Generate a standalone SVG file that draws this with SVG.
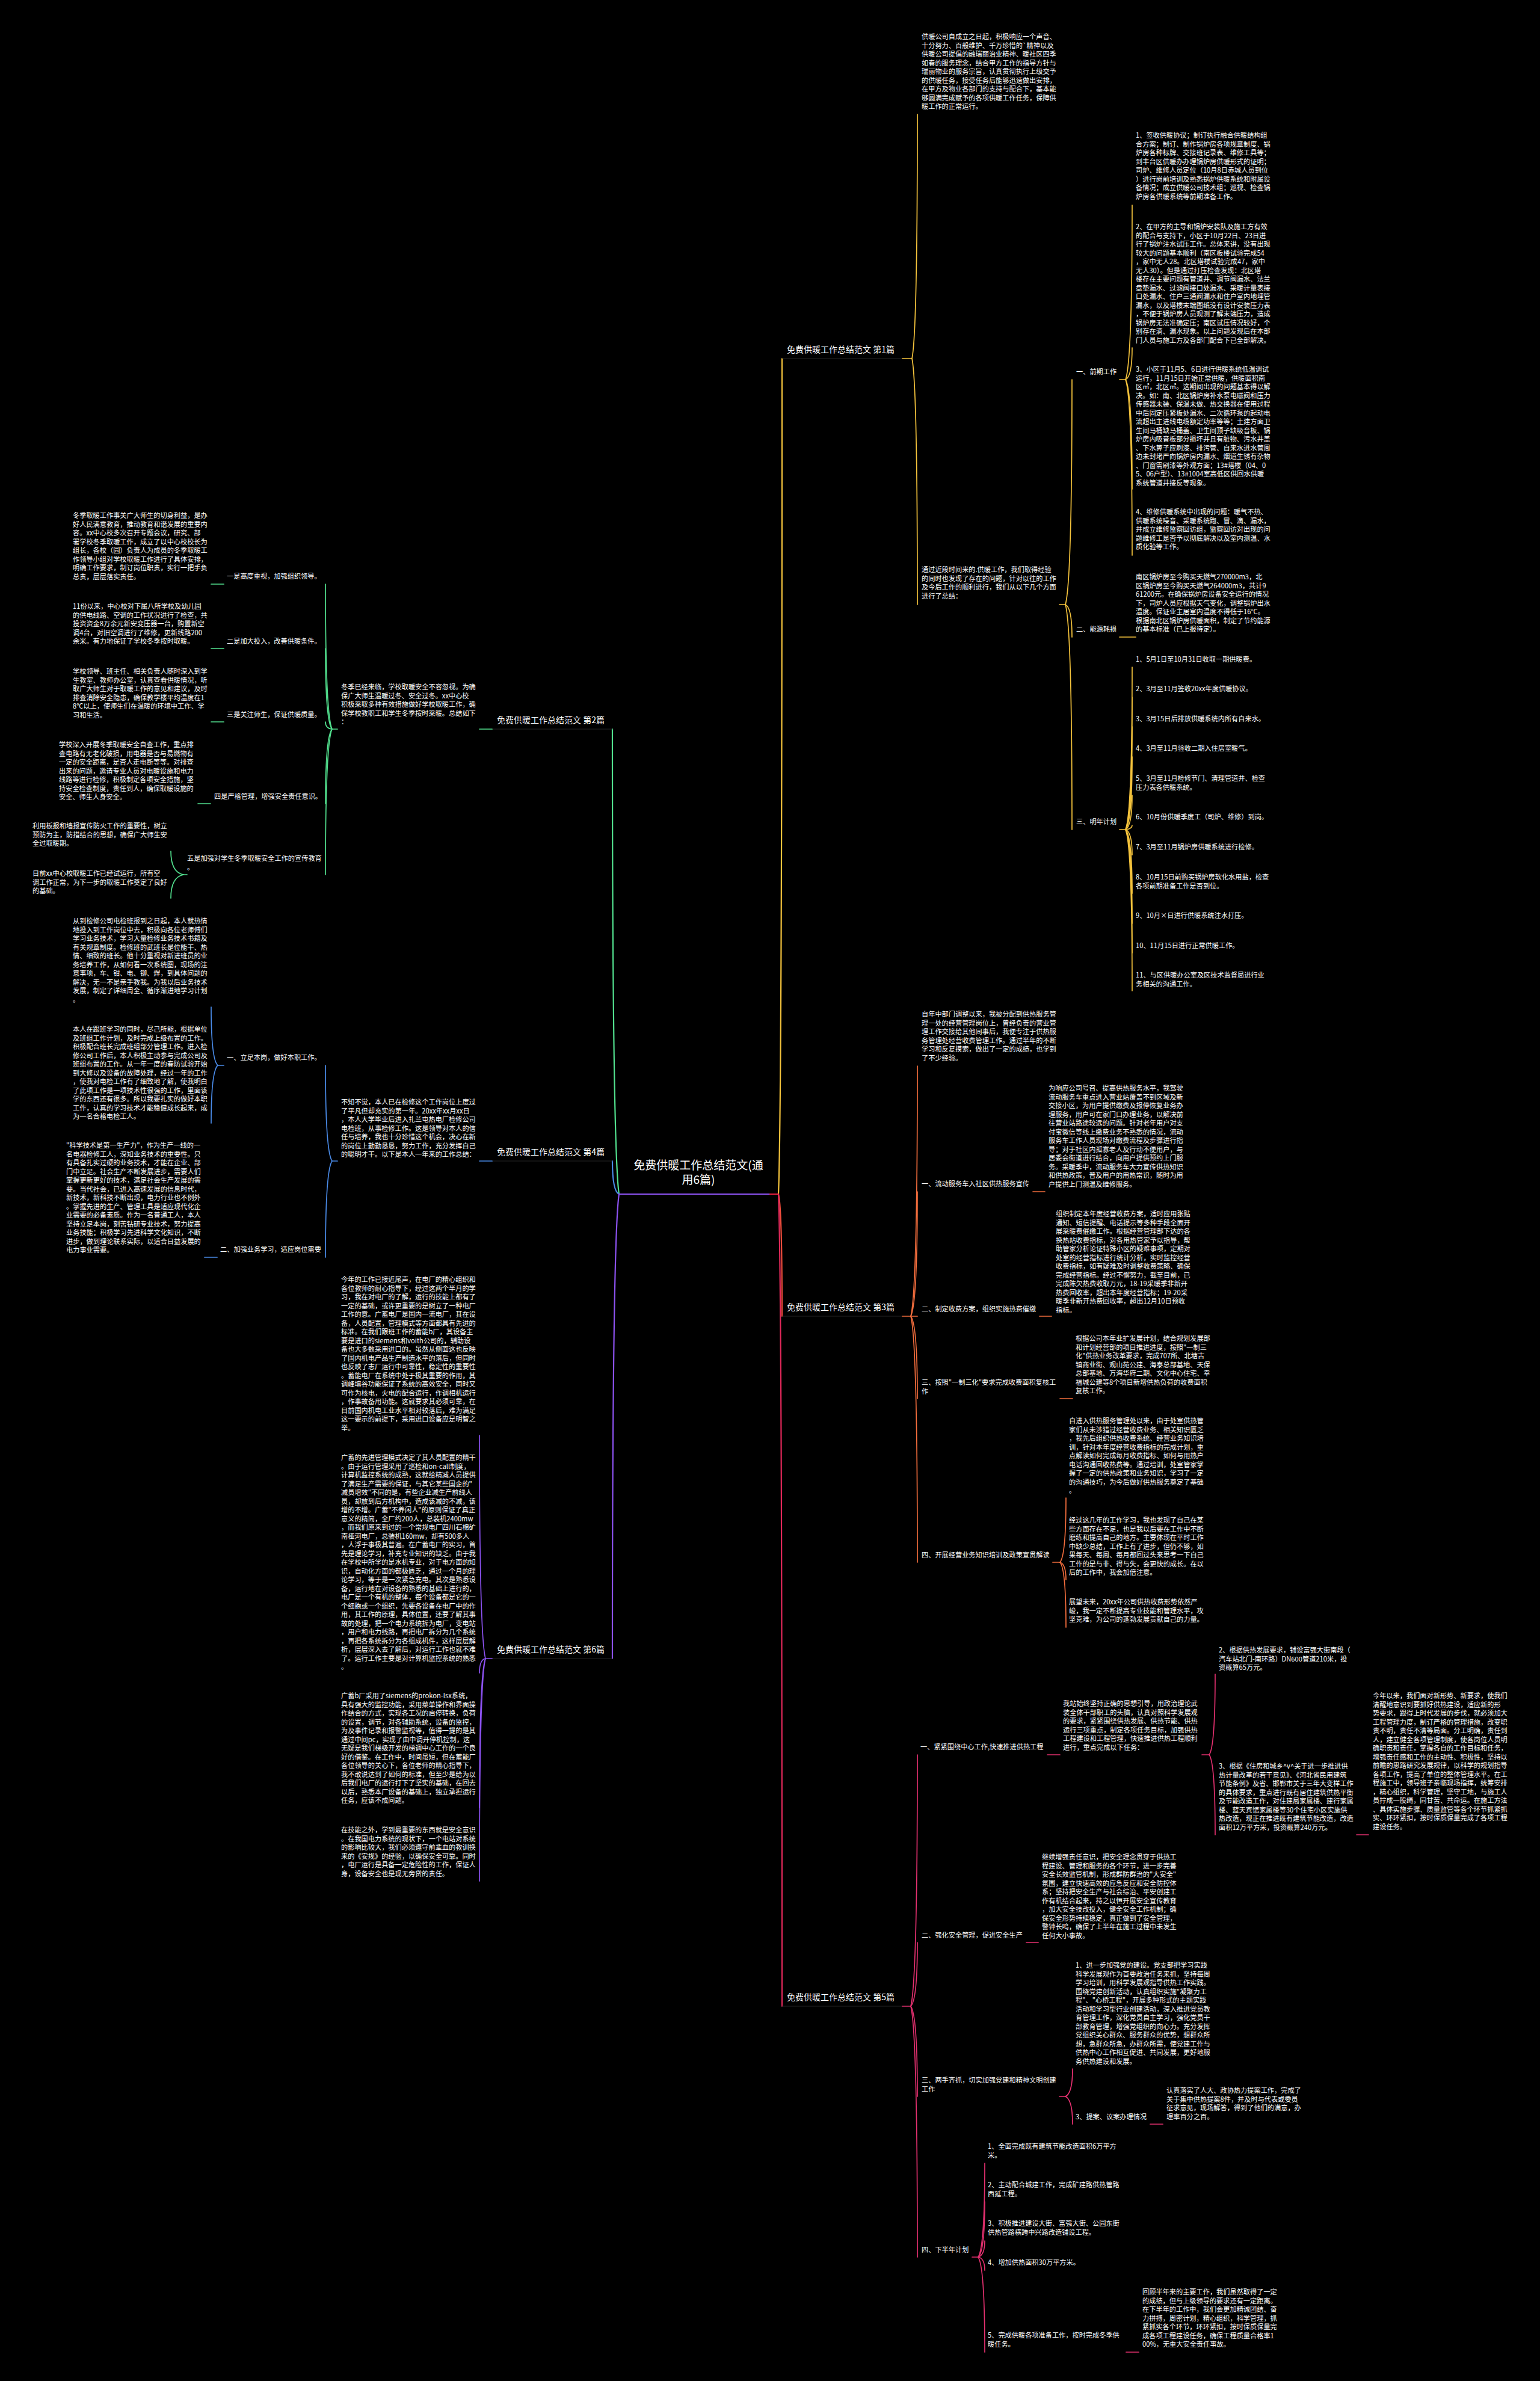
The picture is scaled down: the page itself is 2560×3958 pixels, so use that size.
<svg xmlns="http://www.w3.org/2000/svg" width="2560" height="3958" viewBox="0 0 2560 3958">
<style>
.t{font-family:'Noto Sans CJK SC','Noto Sans',sans-serif;font-size:11.2px;fill:#fff}
.b{font-size:14px}
.h{font-size:19px}
.c{fill:none;stroke-width:1.7;stroke-linecap:round}
.m{stroke-width:2.2}
.u{stroke:#262626;stroke-width:1}
.y{stroke:#f3c23c}.o{stroke:#f26d3d}.r{stroke:#ef4d3c}.p{stroke:#e3306f}.pr{stroke:#e2285a}
.g{stroke:#52e08e}.bl{stroke:#4a8be8}.v{stroke:#8c52f0}.rd{stroke:#e6203f}
</style>
<rect width="2560" height="3958" fill="#000"/>
<g id="connectors">
<path class="c m v" d="M1029 1985 H1280"/>
<path class="c m rd" d="M1280 1985 H1294"/>
<path class="c m y" d="M1294 1985 Q1300 1846 1300 596"/>
<path class="c u" d="M1300 596 H1500"/>
<path class="c y" d="M1500 596 H1516"/>
<path class="c y" d="M1516 596 Q1525 555 1525 190"/>
<path class="c y" d="M1516 596 Q1525 637 1525 1005"/>
<path class="c y" d="M1761 1005 H1771"/>
<path class="c y" d="M1771 1005 Q1782 968 1782 631"/>
<path class="c y" d="M1771 1005 Q1782 1010 1782 1059"/>
<path class="c y" d="M1771 1005 Q1782 1042 1782 1379"/>
<path class="c y" d="M1861 631 H1871"/>
<path class="c y" d="M1871 631 Q1882 602 1882 341"/>
<path class="c y" d="M1871 631 Q1882 626 1882 578"/>
<path class="c y" d="M1871 631 Q1882 649 1882 813"/>
<path class="c y" d="M1871 631 Q1882 660 1882 923"/>
<path class="c y" d="M1861 1059 H1888"/>
<path class="c y" d="M1861 1379 H1871"/>
<path class="c y" d="M1871 1379 Q1882 1352 1882 1109"/>
<path class="c y" d="M1871 1379 Q1882 1357 1882 1159"/>
<path class="c y" d="M1871 1379 Q1882 1362 1882 1208"/>
<path class="c y" d="M1871 1379 Q1882 1367 1882 1258"/>
<path class="c y" d="M1871 1379 Q1882 1373 1882 1322"/>
<path class="c y" d="M1871 1379 Q1882 1378 1882 1372"/>
<path class="c y" d="M1871 1379 Q1882 1383 1882 1421"/>
<path class="c y" d="M1871 1379 Q1882 1390 1882 1485"/>
<path class="c y" d="M1871 1379 Q1882 1395 1882 1535"/>
<path class="c y" d="M1871 1379 Q1882 1400 1882 1584"/>
<path class="c y" d="M1871 1379 Q1882 1406 1882 1647"/>

<path class="c m r" d="M1294 1985 Q1300 2005 1300 2188"/>
<path class="c u" d="M1300 2188 H1500"/>
<path class="c o" d="M1500 2188 H1514"/>
<path class="c o" d="M1514 2188 Q1525 2146 1525 1772"/>
<path class="c o" d="M1514 2188 Q1525 2167 1525 1981"/>
<path class="c o" d="M1514 2188 H1525"/>
<path class="c o" d="M1514 2188 Q1525 2202 1525 2325"/>
<path class="c o" d="M1514 2188 Q1525 2229 1525 2597"/>
<path class="c o" d="M1717 1981 H1737"/>
<path class="c o" d="M1728 2188 H1748"/>
<path class="c o" d="M1762 2325 H1783"/>
<path class="c o" d="M1750 2597 H1762"/>
<path class="c o" d="M1762 2597 Q1772 2586 1772 2490"/>
<path class="c o" d="M1762 2597 Q1772 2600 1772 2626"/>
<path class="c o" d="M1762 2597 Q1772 2608 1772 2705"/>

<path class="c m pr" d="M1294 1985 Q1300 2120 1300 3335"/>
<path class="c u" d="M1300 3335 H1500"/>
<path class="c p" d="M1500 3335 H1514"/>
<path class="c p" d="M1514 3335 Q1525 3293 1525 2917"/>
<path class="c p" d="M1514 3335 Q1525 3324 1525 3229"/>
<path class="c p" d="M1514 3335 Q1525 3350 1525 3485"/>
<path class="c p" d="M1514 3335 Q1525 3377 1525 3752"/>
<path class="c p" d="M1741 2917 H1762"/>
<path class="c p" d="M1998 2917 H2010"/>
<path class="c p" d="M2010 2917 Q2020 2904 2020 2783"/>
<path class="c p" d="M2010 2917 Q2020 2930 2020 3050"/>
<path class="c p" d="M2255 3050 H2275"/>
<path class="c p" d="M1706 3229 H1726"/>
<path class="c p" d="M1761 3485 H1771"/>
<path class="c p" d="M1771 3485 Q1783 3480 1783 3439"/>
<path class="c p" d="M1771 3485 Q1783 3490 1783 3531"/>
<path class="c p" d="M1912 3531 H1933"/>
<path class="c p" d="M1616 3752 H1626"/>
<path class="c p" d="M1626 3752 Q1637 3736 1637 3596"/>
<path class="c p" d="M1626 3752 Q1637 3743 1637 3660"/>
<path class="c p" d="M1626 3752 Q1637 3749 1637 3725"/>
<path class="c p" d="M1626 3752 Q1637 3754 1637 3774"/>
<path class="c p" d="M1626 3752 Q1637 3768 1637 3910"/>
<path class="c p" d="M1872 3910 H1893"/>

<path class="c m g" d="M1029 1985 Q1018 1908 1018 1212"/>
<path class="c u" d="M818 1212 H1018"/>
<path class="c g" d="M797 1212 H818"/>
<path class="c g" d="M552 1212 H561"/>
<path class="c g" d="M552 1212 Q541 1188 541 971"/>
<path class="c g" d="M552 1212 Q541 1199 541 1078"/>
<path class="c g" d="M552 1212 Q541 1211 541 1200"/>
<path class="c g" d="M552 1212 Q541 1224 541 1336"/>
<path class="c g" d="M552 1212 Q541 1236 541 1454"/>
<path class="c g" d="M351 971 H372"/>
<path class="c g" d="M351 1078 H372"/>
<path class="c g" d="M351 1200 H372"/>
<path class="c g" d="M329 1336 H350"/>
<path class="c g" d="M305 1454 H311"/>
<path class="c g" d="M305 1454 Q284 1450 284 1415"/>
<path class="c g" d="M305 1454 Q284 1458 284 1493"/>

<path class="c m bl" d="M1029 1985 Q1018 1980 1018 1930"/>
<path class="c u" d="M818 1930 H1018"/>
<path class="c bl" d="M797 1930 H818"/>
<path class="c bl" d="M552 1930 H561"/>
<path class="c bl" d="M552 1930 Q541 1914 541 1771"/>
<path class="c bl" d="M552 1930 Q541 1946 541 2090"/>
<path class="c bl" d="M362 1771 H372"/>
<path class="c bl" d="M362 1771 Q351 1761 351 1674"/>
<path class="c bl" d="M362 1771 Q351 1781 351 1867"/>
<path class="c bl" d="M340 2090 H361"/>

<path class="c m v" d="M1029 1985 Q1018 2062 1018 2757"/>
<path class="c u" d="M818 2757 H1018"/>
<path class="c v" d="M807 2757 H818"/>
<path class="c v" d="M807 2757 Q797 2720 797 2386"/>
<path class="c v" d="M807 2757 Q797 2759 797 2781"/>
<path class="c v" d="M807 2757 Q797 2782 797 3005"/>
<path class="c v" d="M807 2757 Q797 2794 797 3127"/>
</g>

<g id="root"><text class="t h" text-anchor="middle"><tspan x="1161" y="1944">免费供暖工作总结范文(通</tspan><tspan x="1161" y="1968">用6篇)</tspan></text></g>

<g id="b1"><text class="t b" x="1308" y="586">免费供暖工作总结范文 第1篇</text></g>
<g id="b1-intro"><text class="t"><tspan x="1532" y="65">供暖公司自成立之日起，积极响应一个声音、</tspan><tspan x="1532" dy="14.5">十分努力、百般维护、千万珍惜的`精神以及</tspan><tspan x="1532" dy="14.5">供暖公司提倡的融瑞丽治业精神、暖社区四季</tspan><tspan x="1532" dy="14.5">如春的服务理念，结合甲方工作的指导方针与</tspan><tspan x="1532" dy="14.5">瑞丽物业的服务宗旨，认真贯彻执行上级交予</tspan><tspan x="1532" dy="14.5">的供暖任务，接受任务后能够迅速做出安排，</tspan><tspan x="1532" dy="14.5">在甲方及物业各部门的支持与配合下，基本能</tspan><tspan x="1532" dy="14.5">够圆满完成赋予的各项供暖工作任务，保障供</tspan><tspan x="1532" dy="14.5">暖工作的正常运行。</tspan></text></g>
<g id="b1-sum"><text class="t"><tspan x="1532" y="951">通过近段时间来的.供暖工作，我们取得经验</tspan><tspan x="1532" dy="14.5">的同时也发现了存在的问题，针对以往的工作</tspan><tspan x="1532" dy="14.5">及今后工作的顺利进行，我们从以下几个方面</tspan><tspan x="1532" dy="14.5">进行了总结：</tspan></text></g>
<g id="b1-s1"><text class="t" x="1789" y="622">一、前期工作</text></g>
<g id="b1-s2"><text class="t" x="1789" y="1050">二、能源耗损</text></g>
<g id="b1-s3"><text class="t" x="1789" y="1370">三、明年计划</text></g>
<g id="b1-s1-1"><text class="t"><tspan x="1888" y="229">1、签收供暖协议；制订执行融合供暖结构组</tspan><tspan x="1888" dy="14.5">合方案；制订、制作锅炉房各项规章制度、锅</tspan><tspan x="1888" dy="14.5">炉房各种标牌、交接班记录表、维修工具等；</tspan><tspan x="1888" dy="14.5">到丰台区供暖办办理锅炉房供暖形式的证明；</tspan><tspan x="1888" dy="14.5">司炉、维修人员定位（10月8日赤城人员到位</tspan><tspan x="1888" dy="14.5">）进行岗前培训及熟悉锅炉供暖系统和附属设</tspan><tspan x="1888" dy="14.5">备情况；成立供暖公司技术组；巡视、检查锅</tspan><tspan x="1888" dy="14.5">炉房各供暖系统等前期准备工作。</tspan></text></g>
<g id="b1-s1-2"><text class="t"><tspan x="1888" y="381">2、在甲方的主导和锅炉安装队及施工方有效</tspan><tspan x="1888" dy="14.5">的配合与支持下，小区于10月22日、23日进</tspan><tspan x="1888" dy="14.5">行了锅炉注水试压工作。总体来讲，没有出现</tspan><tspan x="1888" dy="14.5">较大的问题基本顺利（南区板楼试验完成54</tspan><tspan x="1888" dy="14.5">，家中无人28。北区塔楼试验完成47，家中</tspan><tspan x="1888" dy="14.5">无人30）。但是通过打压检查发现：北区塔</tspan><tspan x="1888" dy="14.5">楼存在主要问题有管道井、调节阀漏水、法兰</tspan><tspan x="1888" dy="14.5">盘垫漏水、过滤阀接口处漏水、采暖计量表接</tspan><tspan x="1888" dy="14.5">口处漏水、住户三通阀漏水和住户室内地埋管</tspan><tspan x="1888" dy="14.5">漏水，以及塔楼末端图纸没有设计安装压力表</tspan><tspan x="1888" dy="14.5">，不便于锅炉房人员观测了解末端压力，造成</tspan><tspan x="1888" dy="14.5">锅炉房无法准确定压；南区试压情况较好，个</tspan><tspan x="1888" dy="14.5">别存在滴、漏水现象。以上问题发现后在本部</tspan><tspan x="1888" dy="14.5">门人员与施工方及各部门配合下已全部解决。</tspan></text></g>
<g id="b1-s1-3"><text class="t"><tspan x="1888" y="618">3、小区于11月5、6日进行供暖系统低温调试</tspan><tspan x="1888" dy="14.5">运行，11月15日开始正常供暖，供暖面积南</tspan><tspan x="1888" dy="14.5">区㎡，北区㎡。这期间出现的问题基本得以解</tspan><tspan x="1888" dy="14.5">决。如：南、北区锅炉房补水泵电磁阀和压力</tspan><tspan x="1888" dy="14.5">传感器未装、保温未做、热交换器在使用过程</tspan><tspan x="1888" dy="14.5">中后固定压紧板处漏水、二次循环泵的起动电</tspan><tspan x="1888" dy="14.5">流超出主进线电缆额定功率等等；土建方面卫</tspan><tspan x="1888" dy="14.5">生间马桶缺马桶盖、卫生间顶子缺吸音板、锅</tspan><tspan x="1888" dy="14.5">炉房内吸音板部分损坏并且有脏物、污水井盖</tspan><tspan x="1888" dy="14.5">、下水箅子应刷漆、排污管、自来水进水管周</tspan><tspan x="1888" dy="14.5">边未封堵严向锅炉房内漏水、烟道生锈有杂物</tspan><tspan x="1888" dy="14.5">、门窗需刷漆等外观方面；13#塔楼（04、0</tspan><tspan x="1888" dy="14.5">5、06户型）、13#1004室高低区供回水供暖</tspan><tspan x="1888" dy="14.5">系统管道井接反等现象。</tspan></text></g>
<g id="b1-s1-4"><text class="t"><tspan x="1888" y="855">4、维修供暖系统中出现的问题：暖气不热、</tspan><tspan x="1888" dy="14.5">供暖系统噪音、采暖系统跑、冒、滴、漏水，</tspan><tspan x="1888" dy="14.5">并成立维修监察回访组，监察回访对出现的问</tspan><tspan x="1888" dy="14.5">题维修工是否予以彻底解决以及室内测温、水</tspan><tspan x="1888" dy="14.5">质化验等工作。</tspan></text></g>
<g id="b1-s2-1"><text class="t"><tspan x="1888" y="963">南区锅炉房至今购买天燃气270000m3，北</tspan><tspan x="1888" dy="14.5">区锅炉房至今购买天燃气264000m3，共计9</tspan><tspan x="1888" dy="14.5">61200元。在确保锅炉房设备安全运行的情况</tspan><tspan x="1888" dy="14.5">下，司炉人员应根据天气变化，调整锅炉出水</tspan><tspan x="1888" dy="14.5">温度。保证业主居室内温度不得低于16°C。</tspan><tspan x="1888" dy="14.5">根据南北区锅炉房供暖面积，制定了节约能源</tspan><tspan x="1888" dy="14.5">的基本标准（已上报待定）。</tspan></text></g>
<g id="b1-s3-1"><text class="t" x="1888" y="1100">1、5月1日至10月31日收取一期供暖费。</text></g>
<g id="b1-s3-2"><text class="t" x="1888" y="1149">2、3月至11月签收20xx年度供暖协议。</text></g>
<g id="b1-s3-3"><text class="t" x="1888" y="1199">3、3月15日后排放供暖系统内所有自来水。</text></g>
<g id="b1-s3-4"><text class="t" x="1888" y="1248">4、3月至11月验收二期入住居室暖气。</text></g>
<g id="b1-s3-5"><text class="t"><tspan x="1888" y="1298">5、3月至11月检修节门、清理管道井、检查</tspan><tspan x="1888" dy="14.5">压力表各供暖系统。</tspan></text></g>
<g id="b1-s3-6"><text class="t" x="1888" y="1362">6、10月份供暖季度工（司炉、维修）到岗。</text></g>
<g id="b1-s3-7"><text class="t" x="1888" y="1412">7、3月至11月锅炉房供暖系统进行检修。</text></g>
<g id="b1-s3-8"><text class="t"><tspan x="1888" y="1462">8、10月15日前购买锅炉房软化水用盐，检查</tspan><tspan x="1888" dy="14.5">各项前期准备工作是否到位。</tspan></text></g>
<g id="b1-s3-9"><text class="t" x="1888" y="1526">9、10月×日进行供暖系统注水打压。</text></g>
<g id="b1-s3-10"><text class="t" x="1888" y="1576">10、11月15日进行正常供暖工作。</text></g>
<g id="b1-s3-11"><text class="t"><tspan x="1888" y="1625">11、与区供暖办公室及区技术监督局进行业</tspan><tspan x="1888" dy="14.5">务相关的沟通工作。</tspan></text></g>

<g id="b3"><text class="t b" x="1308" y="2178">免费供暖工作总结范文 第3篇</text></g>
<g id="b3-intro"><text class="t"><tspan x="1532" y="1690">自年中部门调整以来，我被分配到供热服务管</tspan><tspan x="1532" dy="14.5">理一处的经营管理岗位上，曾经负责的营业管</tspan><tspan x="1532" dy="14.5">理工作交接给其他同事后，我便专注于供热服</tspan><tspan x="1532" dy="14.5">务管理处经营收费管理工作。通过半年的不断</tspan><tspan x="1532" dy="14.5">学习和反复摸索，做出了一定的成绩，也学到</tspan><tspan x="1532" dy="14.5">了不少经验。</tspan></text></g>
<g id="b3-s1"><text class="t" x="1532" y="1972">一、流动服务车入社区供热服务宣传</text></g>
<g id="b3-s1-1"><text class="t"><tspan x="1743" y="1813">为响应公司号召、提高供热服务水平，我驾驶</tspan><tspan x="1743" dy="14.5">流动服务车重点进入营业站覆盖不到区域及新</tspan><tspan x="1743" dy="14.5">交接小区，为用户提供缴费及报停恢复业务办</tspan><tspan x="1743" dy="14.5">理服务，用户可在家门口办理业务，以解决前</tspan><tspan x="1743" dy="14.5">往营业站路途较远的问题。针对老年用户对支</tspan><tspan x="1743" dy="14.5">付宝微信等线上缴费业务不熟悉的情况，流动</tspan><tspan x="1743" dy="14.5">服务车工作人员现场对缴费流程及步骤进行指</tspan><tspan x="1743" dy="14.5">导；对于社区内孤寡老人及行动不便用户，与</tspan><tspan x="1743" dy="14.5">居委会街道进行结合，向用户提供预约上门服</tspan><tspan x="1743" dy="14.5">务。采暖季中，流动服务车大力宣传供热知识</tspan><tspan x="1743" dy="14.5">和供热政策，普及用户的用热常识，随时为用</tspan><tspan x="1743" dy="14.5">户提供上门测温及维修服务。</tspan></text></g>
<g id="b3-s2"><text class="t" x="1532" y="2180">二、制定收费方案，组织实施热费催缴</text></g>
<g id="b3-s2-1"><text class="t"><tspan x="1755" y="2022">组织制定本年度经营收费方案，适时应用张贴</tspan><tspan x="1755" dy="14.5">通知、短信提醒、电话提示等多种手段全面开</tspan><tspan x="1755" dy="14.5">展采暖费催缴工作。根据经营管理部下达的各</tspan><tspan x="1755" dy="14.5">换热站收费指标，对各用热管家予以指导，帮</tspan><tspan x="1755" dy="14.5">助管家分析论证特殊小区的疑难事项，定期对</tspan><tspan x="1755" dy="14.5">处室的经营指标进行统计分析，实时监控经营</tspan><tspan x="1755" dy="14.5">收费指标，如有疑难及时调整收费策略、确保</tspan><tspan x="1755" dy="14.5">完成经营指标。经过不懈努力，截至目前，已</tspan><tspan x="1755" dy="14.5">完成陈欠热费收取万元，18-19采暖季非新开</tspan><tspan x="1755" dy="14.5">热费回收率，超出本年度经营指标；19-20采</tspan><tspan x="1755" dy="14.5">暖季非新开热费回收率，超出12月10日预收</tspan><tspan x="1755" dy="14.5">指标。</tspan></text></g>
<g id="b3-s3"><text class="t"><tspan x="1532" y="2302">三、按照"一制三化"要求完成收费面积复核工</tspan><tspan x="1532" dy="14.5">作</tspan></text></g>
<g id="b3-s3-1"><text class="t"><tspan x="1788" y="2229">根据公司本年业扩发展计划，结合规划发展部</tspan><tspan x="1788" dy="14.5">和计划经营部的项目推进进度，按照"一制三</tspan><tspan x="1788" dy="14.5">化"供热业务改革要求，完成707所、北塘古</tspan><tspan x="1788" dy="14.5">镇商业街、观山苑公建、海泰总部基地、天保</tspan><tspan x="1788" dy="14.5">总部基地、万海华府二期、文化中心住宅、幸</tspan><tspan x="1788" dy="14.5">福城公建等8个项目新增供热负荷的收费面积</tspan><tspan x="1788" dy="14.5">复核工作。</tspan></text></g>
<g id="b3-s4"><text class="t" x="1532" y="2589">四、开展经营业务知识培训及政策宣贯解读</text></g>
<g id="b3-s4-1"><text class="t"><tspan x="1777" y="2366">自进入供热服务管理处以来，由于处室供热管</tspan><tspan x="1777" dy="14.5">家们从未涉猎过经营收费业务、相关知识匮乏</tspan><tspan x="1777" dy="14.5">，我先后组织供热收费系统、经营业务知识培</tspan><tspan x="1777" dy="14.5">训，针对本年度经营收费指标的完成计划，重</tspan><tspan x="1777" dy="14.5">点解读如何完成每月收费指标、如何与用热户</tspan><tspan x="1777" dy="14.5">电话沟通回收热费等。通过培训，处室管家掌</tspan><tspan x="1777" dy="14.5">握了一定的供热政策和业务知识，学习了一定</tspan><tspan x="1777" dy="14.5">的沟通技巧，为今后做好供热服务奠定了基础</tspan><tspan x="1777" dy="14.5">。</tspan></text></g>
<g id="b3-s4-2"><text class="t"><tspan x="1777" y="2531">经过这几年的工作学习，我也发现了自己在某</tspan><tspan x="1777" dy="14.5">些方面存在不足，也是我以后要在工作中不断</tspan><tspan x="1777" dy="14.5">磨练和提高自己的地方。主要体现在平时工作</tspan><tspan x="1777" dy="14.5">中缺少总结，工作上有了进步，但仍不够，如</tspan><tspan x="1777" dy="14.5">果每天、每周、每月都回过头来思考一下自己</tspan><tspan x="1777" dy="14.5">工作的是与非、得与失，会更快的成长。在以</tspan><tspan x="1777" dy="14.5">后的工作中，我会加倍注意。</tspan></text></g>
<g id="b3-s4-3"><text class="t"><tspan x="1777" y="2667">展望未来，20xx年公司供热收费形势依然严</tspan><tspan x="1777" dy="14.5">峻，我一定不断提高专业技能和管理水平，攻</tspan><tspan x="1777" dy="14.5">坚克难，为公司的蓬勃发展贡献自己的力量。</tspan></text></g>

<g id="b5"><text class="t b" x="1308" y="3325">免费供暖工作总结范文 第5篇</text></g>
<g id="b5-s1"><text class="t" x="1530" y="2908">一、紧紧围绕中心工作,快速推进供热工程</text></g>
<g id="b5-s1-1"><text class="t"><tspan x="1767" y="2836">我站始终坚持正确的思想引导，用政治理论武</tspan><tspan x="1767" dy="14.5">装全体干部职工的头脑，认真对照科学发展观</tspan><tspan x="1767" dy="14.5">的要求，紧紧围绕供热发展、供热节能、供热</tspan><tspan x="1767" dy="14.5">运行三项重点，制定各项任务目标，加强供热</tspan><tspan x="1767" dy="14.5">工程建设和工程管理，快速推进供热工程顺利</tspan><tspan x="1767" dy="14.5">进行，重点完成以下任务：</tspan></text></g>
<g id="b5-s1-2"><text class="t"><tspan x="2026" y="2747">2、根据供热发展要求，铺设富强大街南段（</tspan><tspan x="2026" dy="14.5">汽车站北门-南环路）DN600管道210米，投</tspan><tspan x="2026" dy="14.5">资概算65万元。</tspan></text></g>
<g id="b5-s1-3"><text class="t"><tspan x="2026" y="2940">3、根据《住房和城乡^v^关于进一步推进供</tspan><tspan x="2026" dy="14.5">热计量改革的若干意见》、《河北省民用建筑</tspan><tspan x="2026" dy="14.5">节能条例》及省、邯郸市关于三年大变样工作</tspan><tspan x="2026" dy="14.5">的具体要求，重点进行既有居住建筑供热平衡</tspan><tspan x="2026" dy="14.5">及节能改造工作，对住建局家属楼、建行家属</tspan><tspan x="2026" dy="14.5">楼、蓝天宾馆家属楼等30个住宅小区实施供</tspan><tspan x="2026" dy="14.5">热改造，现正在推进既有建筑节能改造，改造</tspan><tspan x="2026" dy="14.5">面积12万平方米，投资概算240万元。</tspan></text></g>
<g id="b5-s1-4"><text class="t"><tspan x="2282" y="2823">今年以来，我们面对新形势、新要求，使我们</tspan><tspan x="2282" dy="14.5">清醒地意识到要抓好供热建设，适应新的形</tspan><tspan x="2282" dy="14.5">势要求，跟得上时代发展的步伐，就必须加大</tspan><tspan x="2282" dy="14.5">工程管理力度，制订严格的管理措施，改变职</tspan><tspan x="2282" dy="14.5">责不明，责任不清等局面。分工明确，责任到</tspan><tspan x="2282" dy="14.5">人，建立健全各项管理制度，使各岗位人员明</tspan><tspan x="2282" dy="14.5">确职责和责任，掌握各自的工作目标和任务，</tspan><tspan x="2282" dy="14.5">增强责任感和工作的主动性、积极性，坚持以</tspan><tspan x="2282" dy="14.5">前瞻的思路研究发展规律，以科学的规划指导</tspan><tspan x="2282" dy="14.5">各项工作，提高了单位的整体管理水平。在工</tspan><tspan x="2282" dy="14.5">程施工中，领导班子亲临现场指挥，统筹安排</tspan><tspan x="2282" dy="14.5">，精心组织，科学管理，坚守工地，与施工人</tspan><tspan x="2282" dy="14.5">员拧成一股绳，同甘苦、共命运。在施工方法</tspan><tspan x="2282" dy="14.5">、具体实施步骤、质量监管等各个环节抓紧抓</tspan><tspan x="2282" dy="14.5">实、环环紧扣，按时保质保量完成了各项工程</tspan><tspan x="2282" dy="14.5">建设任务。</tspan></text></g>
<g id="b5-s2"><text class="t" x="1532" y="3221">二、强化安全管理，促进安全生产</text></g>
<g id="b5-s2-1"><text class="t"><tspan x="1732" y="3091">继续增强责任意识，把安全理念贯穿于供热工</tspan><tspan x="1732" dy="14.5">程建设、管理和服务的各个环节，进一步完善</tspan><tspan x="1732" dy="14.5">安全长效监管机制，形成群防群治的"大安全"</tspan><tspan x="1732" dy="14.5">氛围，建立快速高效的应急反应和安全防控体</tspan><tspan x="1732" dy="14.5">系；坚持把安全生产与社会综治、平安创建工</tspan><tspan x="1732" dy="14.5">作有机结合起来，持之以恒开展安全宣传教育</tspan><tspan x="1732" dy="14.5">，加大安全技改投入，健全安全工作机制；确</tspan><tspan x="1732" dy="14.5">保安全形势持续稳定，真正做到了安全管理，</tspan><tspan x="1732" dy="14.5">警钟长鸣，确保了上半年在施工过程中未发生</tspan><tspan x="1732" dy="14.5">任何大小事故。</tspan></text></g>
<g id="b5-s3"><text class="t"><tspan x="1532" y="3462">三、两手齐抓，切实加强党建和精神文明创建</tspan><tspan x="1532" dy="14.5">工作</tspan></text></g>
<g id="b5-s3-1"><text class="t"><tspan x="1788" y="3271">1、进一步加强党的建设。党支部把学习实践</tspan><tspan x="1788" dy="14.5">科学发展观作为首要政治任务来抓，坚持每周</tspan><tspan x="1788" dy="14.5">学习培训，用科学发展观指导供热工作实践。</tspan><tspan x="1788" dy="14.5">围绕党建创新活动，认真组织实施"凝聚力工</tspan><tspan x="1788" dy="14.5">程"、"心桥工程"，开展多种形式的主题实践</tspan><tspan x="1788" dy="14.5">活动和学习型行业创建活动，深入推进党员教</tspan><tspan x="1788" dy="14.5">育管理工作，深化党员自主学习，强化党员干</tspan><tspan x="1788" dy="14.5">部教育管理，增强党组织的向心力。充分发挥</tspan><tspan x="1788" dy="14.5">党组织关心群众、服务群众的优势，想群众所</tspan><tspan x="1788" dy="14.5">想，急群众所急，办群众所需，使党建工作与</tspan><tspan x="1788" dy="14.5">供热中心工作相互促进、共同发展，更好地服</tspan><tspan x="1788" dy="14.5">务供热建设和发展。</tspan></text></g>
<g id="b5-s3-2"><text class="t" x="1788" y="3523">3、提案、议案办理情况</text></g>
<g id="b5-s3-3"><text class="t"><tspan x="1939" y="3479">认真落实了人大、政协热力提案工作，完成了</tspan><tspan x="1939" dy="14.5">关于集中供热提案8件，并及时与代表或委员</tspan><tspan x="1939" dy="14.5">征求意见，现场解答，得到了他们的满意，办</tspan><tspan x="1939" dy="14.5">理率百分之百。</tspan></text></g>
<g id="b5-s4"><text class="t" x="1532" y="3744">四、下半年计划</text></g>
<g id="b5-s4-1"><text class="t"><tspan x="1642" y="3572">1、全面完成既有建筑节能改造面积6万平方</tspan><tspan x="1642" dy="14.5">米。</tspan></text></g>
<g id="b5-s4-2"><text class="t"><tspan x="1642" y="3636">2、主动配合城建工作，完成矿建路供热管路</tspan><tspan x="1642" dy="14.5">西延工程。</tspan></text></g>
<g id="b5-s4-3"><text class="t"><tspan x="1642" y="3700">3、积极推进建设大街、富强大街、公园东街</tspan><tspan x="1642" dy="14.5">供热管路横跨中兴路改造铺设工程。</tspan></text></g>
<g id="b5-s4-4"><text class="t" x="1642" y="3765">4、增加供热面积30万平方米。</text></g>
<g id="b5-s4-5"><text class="t"><tspan x="1642" y="3886">5、完成供暖各项准备工作，按时完成冬季供</tspan><tspan x="1642" dy="14.5">暖任务。</tspan></text></g>
<g id="b5-s4-6"><text class="t"><tspan x="1899" y="3814">回顾半年来的主要工作，我们虽然取得了一定</tspan><tspan x="1899" dy="14.5">的成绩，但与上级领导的要求还有一定距离。</tspan><tspan x="1899" dy="14.5">在下半年的工作中，我们会更加精诚团结、奋</tspan><tspan x="1899" dy="14.5">力拼搏，周密计划，精心组织，科学管理，抓</tspan><tspan x="1899" dy="14.5">紧抓实各个环节，环环紧扣，按时保质保量完</tspan><tspan x="1899" dy="14.5">成各项工程建设任务，确保工程质量合格率1</tspan><tspan x="1899" dy="14.5">00%，无重大安全责任事故。</tspan></text></g>

<g id="b2"><text class="t b" x="826" y="1202">免费供暖工作总结范文 第2篇</text></g>
<g id="b2-intro"><text class="t"><tspan x="567" y="1146">冬季已经来临，学校取暖安全不容忽视。为确</tspan><tspan x="567" dy="14.5">保广大师生温暖过冬、安全过冬。xx中心校</tspan><tspan x="567" dy="14.5">积极采取多种有效措施做好学校取暖工作，确</tspan><tspan x="567" dy="14.5">保学校教职工和学生冬季按时采暖。总结如下</tspan><tspan x="567" dy="14.5">：</tspan></text></g>
<g id="b2-s1"><text class="t" x="377" y="962">一是高度重视，加强组织领导。</text></g>
<g id="b2-s2"><text class="t" x="377" y="1070">二是加大投入，改善供暖条件。</text></g>
<g id="b2-s3"><text class="t" x="377" y="1192">三是关注师生，保证供暖质量。</text></g>
<g id="b2-s4"><text class="t" x="356" y="1328">四是严格管理，增强安全责任意识。</text></g>
<g id="b2-s5"><text class="t"><tspan x="311" y="1431">五是加强对学生冬季取暖安全工作的宣传教育</tspan><tspan x="311" dy="14.5">。</tspan></text></g>
<g id="b2-s1-1"><text class="t"><tspan x="121" y="861">冬季取暖工作事关广大师生的切身利益，是办</tspan><tspan x="121" dy="14.5">好人民满意教育，推动教育和谐发展的重要内</tspan><tspan x="121" dy="14.5">容。xx中心校多次召开专题会议，研究、部</tspan><tspan x="121" dy="14.5">署学校冬季取暖工作，成立了以中心校校长为</tspan><tspan x="121" dy="14.5">组长，各校（园）负责人为成员的冬季取暖工</tspan><tspan x="121" dy="14.5">作领导小组对学校取暖工作进行了具体安排，</tspan><tspan x="121" dy="14.5">明确工作要求，制订岗位职责，实行一把手负</tspan><tspan x="121" dy="14.5">总责，层层落实责任。</tspan></text></g>
<g id="b2-s2-1"><text class="t"><tspan x="121" y="1012">11份以来，中心校对下属八所学校及幼儿园</tspan><tspan x="121" dy="14.5">的供电线路、空调的工作状况进行了检查，共</tspan><tspan x="121" dy="14.5">投资资金8万余元新安变压器一台，购置新空</tspan><tspan x="121" dy="14.5">调4台，对旧空调进行了维修，更新线路200</tspan><tspan x="121" dy="14.5">余米。有力地保证了学校冬季按时取暖。</tspan></text></g>
<g id="b2-s3-1"><text class="t"><tspan x="121" y="1120">学校领导、班主任、相关负责人随时深入到学</tspan><tspan x="121" dy="14.5">生教室、教师办公室，认真查看供暖情况，听</tspan><tspan x="121" dy="14.5">取广大师生对于取暖工作的意见和建议，及时</tspan><tspan x="121" dy="14.5">排查消除安全隐患，确保教学楼平均温度在1</tspan><tspan x="121" dy="14.5">8℃以上，使师生们在温暖的环境中工作、学</tspan><tspan x="121" dy="14.5">习和生活。</tspan></text></g>
<g id="b2-s4-1"><text class="t"><tspan x="98" y="1242">学校深入开展冬季取暖安全自查工作，重点排</tspan><tspan x="98" dy="14.5">查电路有无老化破损，用电器是否与易燃物有</tspan><tspan x="98" dy="14.5">一定的安全距离，是否人走电断等等。对排查</tspan><tspan x="98" dy="14.5">出来的问题，邀请专业人员对电暖设施和电力</tspan><tspan x="98" dy="14.5">线路等进行检修，积极制定各项安全措施，坚</tspan><tspan x="98" dy="14.5">持安全检查制度，责任到人，确保取暖设施的</tspan><tspan x="98" dy="14.5">安全、师生人身安全。</tspan></text></g>
<g id="b2-s5-1"><text class="t"><tspan x="54" y="1377">利用板报和墙报宣传防火工作的重要性，树立</tspan><tspan x="54" dy="14.5">预防为主，防措结合的思想，确保广大师生安</tspan><tspan x="54" dy="14.5">全过取暖期。</tspan></text></g>
<g id="b2-s5-2"><text class="t"><tspan x="54" y="1456">目前xx中心校取暖工作已经试运行，所有空</tspan><tspan x="54" dy="14.5">调工作正常，为下一步的取暖工作奠定了良好</tspan><tspan x="54" dy="14.5">的基础。</tspan></text></g>

<g id="b4"><text class="t b" x="826" y="1920">免费供暖工作总结范文 第4篇</text></g>
<g id="b4-intro"><text class="t"><tspan x="567" y="1836">不知不觉，本人已在检修这个工作岗位上度过</tspan><tspan x="567" dy="14.5">了平凡但却充实的第一年。20xx年xx月xx日</tspan><tspan x="567" dy="14.5">，本人大学毕业后进入扎兰屯热电厂检修公司</tspan><tspan x="567" dy="14.5">电检班，从事检修工作。这是领导对本人的信</tspan><tspan x="567" dy="14.5">任与培养，我也十分珍惜这个机会，决心在新</tspan><tspan x="567" dy="14.5">的岗位上勤勤恳恳，努力工作，充分发挥自己</tspan><tspan x="567" dy="14.5">的聪明才干。以下是本人一年来的工作总结：</tspan></text></g>
<g id="b4-s1"><text class="t" x="377" y="1762">一、立足本岗，做好本职工作。</text></g>
<g id="b4-s2"><text class="t" x="366" y="2081">二、加强业务学习，适应岗位需要</text></g>
<g id="b4-s1-1"><text class="t"><tspan x="121" y="1535">从到检修公司电检班报到之日起，本人就热情</tspan><tspan x="121" dy="14.5">地投入到工作岗位中去，积极向各位老师傅们</tspan><tspan x="121" dy="14.5">学习业务技术，学习大量检修业务技术书籍及</tspan><tspan x="121" dy="14.5">有关规章制度。检修班的武班长是位能干、热</tspan><tspan x="121" dy="14.5">情、细致的班长。他十分重视对新进班员的业</tspan><tspan x="121" dy="14.5">务培养工作，从如何看一次系统图，现场的注</tspan><tspan x="121" dy="14.5">意事项，车、钳、电、铆、焊，到具体问题的</tspan><tspan x="121" dy="14.5">解决，无一不是亲手教我。为我以后业务技术</tspan><tspan x="121" dy="14.5">发展，制定了详细周全、循序渐进地学习计划</tspan><tspan x="121" dy="14.5">。</tspan></text></g>
<g id="b4-s1-2"><text class="t"><tspan x="121" y="1715">本人在跟班学习的同时，尽己所能，根据单位</tspan><tspan x="121" dy="14.5">及班组工作计划，及时完成上级布置的工作。</tspan><tspan x="121" dy="14.5">积极配合班长完成班组部分管理工作。进入检</tspan><tspan x="121" dy="14.5">修公司工作后，本人积极主动参与完成公司及</tspan><tspan x="121" dy="14.5">班组布置的工作。从一年一度的春防试验开始</tspan><tspan x="121" dy="14.5">到大修以及设备的故障处理，经过一年的工作</tspan><tspan x="121" dy="14.5">，使我对电检工作有了细致地了解，使我明白</tspan><tspan x="121" dy="14.5">了此项工作是一项技术性很强的工作，里面该</tspan><tspan x="121" dy="14.5">学的东西还有很多。所以我要扎实的做好本职</tspan><tspan x="121" dy="14.5">工作，认真的学习技术才能稳健成长起来，成</tspan><tspan x="121" dy="14.5">为一名合格电检工人。</tspan></text></g>
<g id="b4-s2-1"><text class="t"><tspan x="110" y="1908">"科学技术是第一生产力"，作为生产一线的一</tspan><tspan x="110" dy="14.5">名电器检修工人，深知业务技术的重要性。只</tspan><tspan x="110" dy="14.5">有具备扎实过硬的业务技术，才能在企业、部</tspan><tspan x="110" dy="14.5">门中立足。社会生产不断发展进步，需要人们</tspan><tspan x="110" dy="14.5">掌握更新更好的技术，满足社会生产发展的需</tspan><tspan x="110" dy="14.5">要。当代社会，已进入高速发展的信息时代，</tspan><tspan x="110" dy="14.5">新技术，新科技不断出现，电力行业也不例外</tspan><tspan x="110" dy="14.5">。掌握先进的生产、管理工具是适应现代化企</tspan><tspan x="110" dy="14.5">业需要的必备素质。作为一名普通工人，本人</tspan><tspan x="110" dy="14.5">坚持立足本岗，刻苦钻研专业技术，努力提高</tspan><tspan x="110" dy="14.5">业务技能；积极学习先进科学文化知识，不断</tspan><tspan x="110" dy="14.5">进步，做到理论联系实际，以适合日益发展的</tspan><tspan x="110" dy="14.5">电力事业需要。</tspan></text></g>

<g id="b6"><text class="t b" x="826" y="2747">免费供暖工作总结范文 第6篇</text></g>
<g id="b6-t1"><text class="t"><tspan x="567" y="2131">今年的工作已接近尾声，在电厂的精心组织和</tspan><tspan x="567" dy="14.5">各位教师的耐心指导下，经过这两个半月的学</tspan><tspan x="567" dy="14.5">习，我在对电厂的了解，运行的技能上都有了</tspan><tspan x="567" dy="14.5">一定的基础，或许更重要的是树立了一种电厂</tspan><tspan x="567" dy="14.5">工作的意。广蓄电厂是国内一流电厂，其在设</tspan><tspan x="567" dy="14.5">备，人员配置，管理模式等方面都具有先进的</tspan><tspan x="567" dy="14.5">标准。在我们跟班工作的蓄能b厂，其设备主</tspan><tspan x="567" dy="14.5">要是进口的siemens和voith公司的，辅助设</tspan><tspan x="567" dy="14.5">备也大多数采用进口的。虽然从侧面这也反映</tspan><tspan x="567" dy="14.5">了国内机电产品生产制造水平的落后，但同时</tspan><tspan x="567" dy="14.5">也反映了志厂运行中可靠性，稳定性的重要性</tspan><tspan x="567" dy="14.5">。蓄能电厂在系统中处于极其重要的作用，其</tspan><tspan x="567" dy="14.5">调峰填谷功能保证了系统的高效安全，同时又</tspan><tspan x="567" dy="14.5">可作为核电，火电的配合运行，作调相机运行</tspan><tspan x="567" dy="14.5">，作事故备用功能。这就要求其必须可靠，在</tspan><tspan x="567" dy="14.5">目前国内机电工业水平相对较落后，难为满足</tspan><tspan x="567" dy="14.5">这一要示的前提下，采用进口设备应是明智之</tspan><tspan x="567" dy="14.5">举。</tspan></text></g>
<g id="b6-t2"><text class="t"><tspan x="567" y="2427">广蓄的先进管理模式决定了其人员配置的精干</tspan><tspan x="567" dy="14.5">。由于运行管理采用了巡检和on-call制度，</tspan><tspan x="567" dy="14.5">计算机监控系统的成熟，这就给精减人员提供</tspan><tspan x="567" dy="14.5">了满足生产需要的保证，与其它某些国企的"</tspan><tspan x="567" dy="14.5">减员增效"不同的是，有些企业减生产前线人</tspan><tspan x="567" dy="14.5">员，却放到后方机构中，造成该减的不减，该</tspan><tspan x="567" dy="14.5">增的不增。广蓄"不养闲人"的原则保证了真正</tspan><tspan x="567" dy="14.5">意义的精简，全厂约200人，总装机2400mw</tspan><tspan x="567" dy="14.5">，而我们原来到过的一个常规电厂四川石棉矿</tspan><tspan x="567" dy="14.5">南桠河电厂，总装机160mw，却有500多人</tspan><tspan x="567" dy="14.5">，人浮于事极其普遍。在广蓄电厂的实习，首</tspan><tspan x="567" dy="14.5">先是理论学习，补充专业知识的缺乏。由于我</tspan><tspan x="567" dy="14.5">在学校中所学的是水机专业，对于电方面的知</tspan><tspan x="567" dy="14.5">识，自动化方面的都极匮乏，通过一个月的理</tspan><tspan x="567" dy="14.5">论学习，等于是一次紧急充电。其次是熟悉设</tspan><tspan x="567" dy="14.5">备，运行地在对设备的熟悉的基础上进行的，</tspan><tspan x="567" dy="14.5">电厂是一个有机的整体，每个设备都是它的一</tspan><tspan x="567" dy="14.5">个细胞或一个组织，先要各设备在电厂中的作</tspan><tspan x="567" dy="14.5">用，其工作的原理，具体位置，还要了解其事</tspan><tspan x="567" dy="14.5">故的处理，把一个电力系统拆为电厂，变电站</tspan><tspan x="567" dy="14.5">，用户和电力线路，再把电厂拆分为几个系统</tspan><tspan x="567" dy="14.5">，再把各系统拆分为各组成机件，这样层层解</tspan><tspan x="567" dy="14.5">析，层层深入去了解后，对运行工作也就不难</tspan><tspan x="567" dy="14.5">了。运行工作主要是对计算机监控系统的熟悉</tspan><tspan x="567" dy="14.5">。</tspan></text></g>
<g id="b6-t3"><text class="t"><tspan x="567" y="2823">广蓄b厂采用了siemens的prokon-lsx系统，</tspan><tspan x="567" dy="14.5">具有强大的监控功能，采用菜单操作和界面操</tspan><tspan x="567" dy="14.5">作结合的方式，实现各工况的启停转换，负荷</tspan><tspan x="567" dy="14.5">的设置，调节，对各辅助系统，设备的监控，</tspan><tspan x="567" dy="14.5">为及事件记录和报警监视等，值得一提的是其</tspan><tspan x="567" dy="14.5">通过中间pc，实现了由中调开停机控制，这</tspan><tspan x="567" dy="14.5">无疑是我们梯级开发的梯调中心工作的一个良</tspan><tspan x="567" dy="14.5">好的借鉴。在工作中，时间虽短，但在蓄能厂</tspan><tspan x="567" dy="14.5">各位领导的关心下，各位老师的精心指导下，</tspan><tspan x="567" dy="14.5">我不敢说达到了如何的标准，但至少是给为以</tspan><tspan x="567" dy="14.5">后我们电厂的运行打下了坚实的基础，在回去</tspan><tspan x="567" dy="14.5">以后，熟悉本厂设备的基础上，独立承担运行</tspan><tspan x="567" dy="14.5">任务，应该不成问题。</tspan></text></g>
<g id="b6-t4"><text class="t"><tspan x="567" y="3046">在技能之外，学到最重要的东西就是安全意识</tspan><tspan x="567" dy="14.5">。在我国电力系统的现状下，一个电站对系统</tspan><tspan x="567" dy="14.5">的影响比较大，我们必须遵守前辈血的教训换</tspan><tspan x="567" dy="14.5">来的《安规》的经验，以确保安全可靠。同时</tspan><tspan x="567" dy="14.5">，电厂运行是具备一定危险性的工作，保证人</tspan><tspan x="567" dy="14.5">身，设备安全也是现无旁贷的责任。</tspan></text></g>
</svg>
